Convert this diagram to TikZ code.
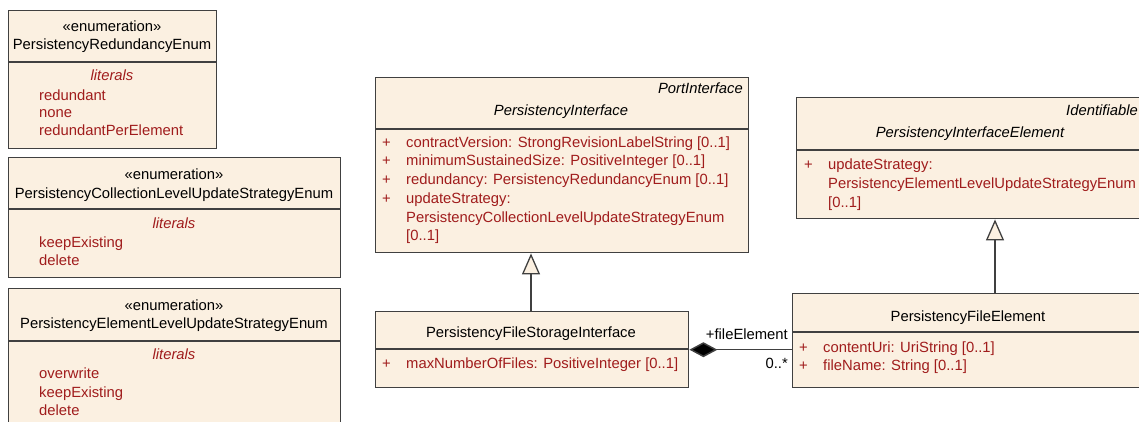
\documentclass[tikz,border=0pt]{standalone}
\usepackage{fontspec}
\setmainfont{Liberation Sans}
\usetikzlibrary{arrows.meta}
\definecolor{umlfill}{RGB}{251,240,225}
\definecolor{umlred}{RGB}{160,28,28}
\definecolor{umlline}{RGB}{64,64,64}
\newcommand{\umlfont}{\fontsize{14.8}{17}\selectfont}
\begin{document}
\begin{tikzpicture}[x=1pt,y=-1pt,
  umlbox/.style={draw=umlline,line width=1.4pt,fill=umlfill,anchor=north west,inner sep=0pt,minimum width=#1},
  sepline/.style={draw=umlline,line width=1.2pt},
  txt/.style={inner sep=0pt,font=\umlfont},
  ctxt/.style={txt,anchor=base},
  ltxt/.style={txt,anchor=base west},
  rtxt/.style={txt,anchor=base east},
  lit/.style={ltxt,text=umlred},
  italred/.style={ctxt,text=umlred,font=\umlfont\itshape},
  conn/.style={draw=umlline,line width=1.5pt},
  gentip/.style={-{Triangle[open,length=21pt,width=18pt,fill=umlfill,line width=1.3pt]}}
]
\useasboundingbox (0,0) rectangle (1139,422);
\clip (0,0) rectangle (1139,422);

% ---------- Box 1
\node[umlbox=208pt,minimum height=138pt] (e1) at (8,10) {};
\draw[sepline] (8,62) -- (216,62);
\node[ctxt] (e1s) at (112,32) {«enumeration»};
\node[ctxt] (e1n) at (112,50) {PersistencyRedundancyEnum};
\node[italred] (e1l) at (112,81) {literals};
\node[lit] (e1a) at (39,101) {redundant};
\node[lit] (e1b) at (39,118) {none};
\node[lit] (e1c) at (39,136) {redundantPerElement};

% ---------- Box 2
\node[umlbox=332pt,minimum height=120pt] (e2) at (8,157) {};
\draw[sepline] (8,209) -- (340,209);
\node[ctxt] (e2s) at (174,179) {«enumeration»};
\node[ctxt] (e2n) at (174,198) {PersistencyCollectionLevelUpdateStrategyEnum};
\node[italred] (e2l) at (174,228) {literals};
\node[lit] (e2a) at (39,247) {keepExisting};
\node[lit] (e2b) at (39,265) {delete};

% ---------- Box 3
\node[umlbox=332pt,minimum height=160pt] (e3) at (8,288) {};
\draw[sepline] (8,341) -- (340,341);
\node[ctxt] (e3s) at (174,310) {«enumeration»};
\node[ctxt] (e3n) at (174,328) {PersistencyElementLevelUpdateStrategyEnum};
\node[italred] (e3l) at (174,359) {literals};
\node[lit] (e3a) at (39,378) {overwrite};
\node[lit] (e3b) at (39,397) {keepExisting};
\node[lit] (e3c) at (39,415) {delete};

% ---------- PersistencyInterface
\node[umlbox=373pt,minimum height=175pt] (pi) at (375,77) {};
\draw[sepline] (375,129) -- (748,129);
\node[rtxt,font=\umlfont\itshape] (pis) at (743,94) {PortInterface};
\node[ctxt,font=\umlfont\itshape] (pin) at (561,116) {PersistencyInterface};
\node[lit] (pip1) at (382,148) {+};
\node[lit] (pia1) at (406,148) {contractVersion: StrongRevisionLabelString [0..1]};
\node[lit] (pip2) at (382,166) {+};
\node[lit] (pia2) at (406,166) {minimumSustainedSize: PositiveInteger [0..1]};
\node[lit] (pip3) at (382,184) {+};
\node[lit] (pia3) at (406,184) {redundancy: PersistencyRedundancyEnum [0..1]};
\node[lit] (pip4) at (382,203) {+};
\node[lit] (pia4) at (406,203) {updateStrategy:};
\node[lit] (pia5) at (406,222) {PersistencyCollectionLevelUpdateStrategyEnum};
\node[lit] (pia6) at (406,240) {[0..1]};

% ---------- PersistencyFileStorageInterface
\node[umlbox=313pt,minimum height=76pt] (pfsi) at (375,311) {};
\draw[sepline] (375,349) -- (688,349);
\node[ctxt] (pfsin) at (531,337) {PersistencyFileStorageInterface};
\node[lit] (pfsip) at (382,368) {+};
\node[lit] (pfsia) at (406,368) {maxNumberOfFiles: PositiveInteger [0..1]};

% ---------- PersistencyInterfaceElement
\node[umlbox=348pt,minimum height=121pt] (pie) at (796,97) {};
\draw[sepline] (796,150) -- (1144,150);
\node[rtxt,font=\umlfont\itshape] (pies) at (1138,116) {Identifiable};
\node[ctxt,font=\umlfont\itshape] (pien) at (970,138) {PersistencyInterfaceElement};
\node[lit] (piep) at (804,170) {+};
\node[lit] (piea1) at (828,170) {updateStrategy:};
\node[lit] (piea2) at (828,188) {PersistencyElementLevelUpdateStrategyEnum};
\node[lit] (piea3) at (828,207) {[0..1]};

% ---------- PersistencyFileElement
\node[umlbox=352pt,minimum height=94pt] (pfe) at (792,293) {};
\draw[sepline] (792,332) -- (1144,332);
\node[ctxt] (pfen) at (968,321) {PersistencyFileElement};
\node[lit] (pfep1) at (799,352) {+};
\node[lit] (pfea1) at (823,352) {contentUri: UriString [0..1]};
\node[lit] (pfep2) at (799,370) {+};
\node[lit] (pfea2) at (823,370) {fileName: String [0..1]};

% ---------- Connectors
\coordinate (g1) at (531,311);
\draw[conn,gentip] (g1) -- (g1 |- pi.south);
\coordinate (g2) at (995,293);
\draw[conn,gentip] (g2) -- (g2 |- pie.south);
\draw[conn,{Diamond[length=28pt,width=15pt,fill=black]}-] (pfsi.east) -- (pfsi.east -| pfe.west);
\node[rtxt] (rl) at (788,339) {+fileElement};
\node[rtxt] (ml) at (788,368) {0..*};
\end{tikzpicture}
\end{document}
